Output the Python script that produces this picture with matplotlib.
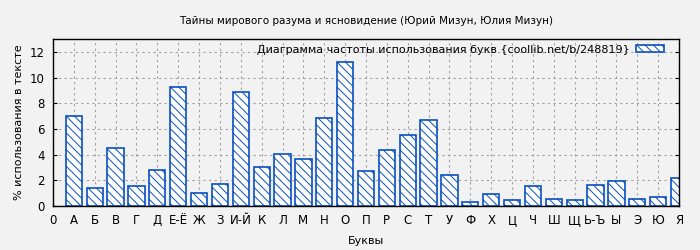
import matplotlib
matplotlib.use("Agg")
import matplotlib.pyplot as plt

# ------------------------------------------------------------------
# data
# ------------------------------------------------------------------
LETTERS = ["0", "А", "Б", "В", "Г", "Д", "Е-Ё", "Ж", "З", "И-Й", "К", "Л", "М",
           "Н", "О", "П", "Р", "С", "Т", "У", "Ф", "Х", "Ц", "Ч", "Ш", "Щ",
           "Ь-Ъ", "Ы", "Э", "Ю", "Я"]
BAR_LETTERS = LETTERS[1:]
PERCENT = [7.0, 1.38, 4.5, 1.56, 2.78, 9.25, 0.99, 1.69, 8.86, 3.01, 4.03, 3.64,
           6.83, 11.2, 2.70, 4.34, 5.51, 6.68, 2.39, 0.29, 0.91, 0.44, 1.53,
           0.52, 0.44, 1.61, 1.92, 0.52, 0.68, 2.16]
Y_TICKS = [0, 2, 4, 6, 8, 10, 12]

TITLE = "Тайны мирового разума и ясновидение (Юрий Мизун, Юлия Мизун)"
LEGEND = "Диаграмма частоты использования букв {coollib.net/b/248819}"

BG = "#f2f2f2"
BLUE = "#0a4fbf"
HATCH = chr(92) * 4   # dense "\" hatch

plt.rcParams["font.family"] = ["DejaVu Sans"]
plt.rcParams["hatch.linewidth"] = 0.7
plt.rcParams["hatch.color"] = BLUE

fig = plt.figure(figsize=(7, 2.5), dpi=100, facecolor=BG)
ax = fig.add_axes([0.0757, 0.176, 0.8943, 0.668], facecolor=BG)

x_pos = list(range(1, len(BAR_LETTERS) + 1))
ax.bar(x_pos, PERCENT, width=0.78, facecolor="white", edgecolor=BLUE,
       linewidth=1.2, hatch=HATCH, label=LEGEND, zorder=3)

ax.set_xlim(0, len(LETTERS) - 1)
ax.set_ylim(0, 13)
ax.set_xticks(range(len(LETTERS)))
ax.set_xticklabels(LETTERS)
ax.set_yticks(Y_TICKS)

ax.grid(True, color="#a0a0a0", linestyle=(0, (2, 3)), linewidth=0.8, zorder=0)
ax.tick_params(direction="in", length=3, width=0.8, labelsize=8.5,
               top=False, right=True, pad=6)
for s in ax.spines.values():
    s.set_linewidth(1.0)
    s.set_zorder(4)

ax.set_title(TITLE, fontsize=7.5, pad=11)
ax.set_xlabel("Буквы", fontsize=8, labelpad=6)
ax.set_ylabel("% использования в тексте", fontsize=8, labelpad=4)

leg = ax.legend(loc="upper right", frameon=False, fontsize=8,
                markerfirst=False, handlelength=2.5, handleheight=0.6,
                borderaxespad=0.1, handletextpad=0.6,
                bbox_to_anchor=(0.985, 1.0))

fig.savefig("out.png", dpi=100, facecolor=BG)
